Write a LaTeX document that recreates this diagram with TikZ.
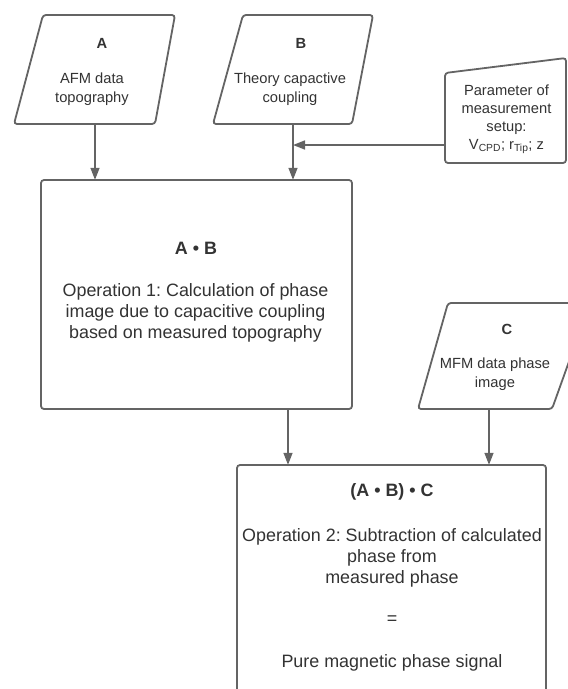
\documentclass[tikz,border=0pt]{standalone}
\usepackage{fontspec}
\setmainfont{Liberation Sans}
\usetikzlibrary{arrows.meta}
\definecolor{linec}{HTML}{646464}
\definecolor{textc}{HTML}{333333}
\tikzset{
  shapeline/.style={draw=linec, line width=1.8pt, rounded corners=3pt, fill=white},
  conn/.style={draw=linec, line width=1.5pt, -{Triangle[length=12pt,width=9pt]}},
  small/.style={text=textc, font=\fontsize{14.7}{19}\selectfont, align=center, inner sep=0pt},
  smallb/.style={text=textc, font=\fontsize{14.7}{19}\selectfont\bfseries, inner sep=0pt},
  big/.style={text=textc, font=\fontsize{17.9}{21}\selectfont, align=center, inner sep=0pt},
  bigb/.style={text=textc, font=\fontsize{17.9}{21}\selectfont\bfseries, inner sep=0pt},
  holder/.style={draw=none, inner sep=0pt}
}
\frenchspacing
\begin{document}
\begin{tikzpicture}[x=1pt, y=-1pt]
\useasboundingbox (0,0) rectangle (568,689);
\clip (0,0) rectangle (568,689);

% shape outlines
\draw[shapeline] (43,15) -- (175,15) -- (155,124) -- (14,124) -- cycle;
\draw[shapeline] (243,15) -- (373,15) -- (352,124) -- (213,124) -- cycle;
\draw[shapeline] (445,73) -- (566,58) -- (566,163) -- (445,163) -- cycle;
\draw[shapeline] (41,180) rectangle (352,409);
\draw[shapeline] (448,303) -- (590,303) -- (552,409) -- (418,409) -- cycle;
\draw[shapeline] (237,465) rectangle (546,720);

% holder nodes (shape extents) for connectors
\node[holder, minimum width=1pt, minimum height=109pt] (A) at (95,69.5) {};
\node[holder, minimum width=1pt, minimum height=109pt] (B) at (293,69.5) {};
\node[holder, minimum width=121pt, minimum height=90pt] (P) at (505.5,118) {};
\node[holder, minimum width=311pt, minimum height=229pt] (op1) at (196.5,294.5) {};
\node[holder, minimum width=1pt, minimum height=106pt] (C) at (489,356) {};
\node[holder, minimum width=309pt, minimum height=255pt] (op2) at (391.5,592.5) {};
\coordinate (pin) at (445,145);
\coordinate (op1out) at (288,409);

% texts
\node[smallb] (Atitle) at (102,43) {A};
\node[small] (Abody) at (92,89) {AFM data\\topography};
\node[smallb] (Btitle) at (301,43) {B};
\node[small] (Bbody) at (290,89) {Theory capactive\\coupling};
\node[small, font=\fontsize{14.7}{18}\selectfont] (Pbody) at (506.5,119) {Parameter of\\measurement\\setup:\\V\textsubscript{CPD}; r\textsubscript{Tip}; z};
\node[bigb] (op1title) at (196,248) {A • B};
\node[big] (op1body) at (195.5,313) {Operation 1: Calculation of phase\\image due to capacitive coupling\\based on measured topography};
\node[smallb] (Ctitle) at (507,329) {C};
\node[small] (Cbody) at (495,374) {MFM data phase\\image};
\node[bigb] (op2title) at (392,492) {(A • B) • C};
\node[big] (op2body) at (392,558) {Operation 2: Subtraction of calculated\\phase from\\measured phase};
\node[big] (op2eq) at (392,620) {=};
\node[big] (op2res) at (392,663) {Pure magnetic phase signal};

% connectors
\draw[conn] (A.south) -- (A.south |- op1.north);
\draw[conn] (B.south) -- (B.south |- op1.north);
\draw[conn] (pin) -- (pin -| B.south);
\draw[conn] (op1out) -- (op1out |- op2.north);
\draw[conn] (C.south) -- (C.south |- op2.north);
\end{tikzpicture}
\end{document}
